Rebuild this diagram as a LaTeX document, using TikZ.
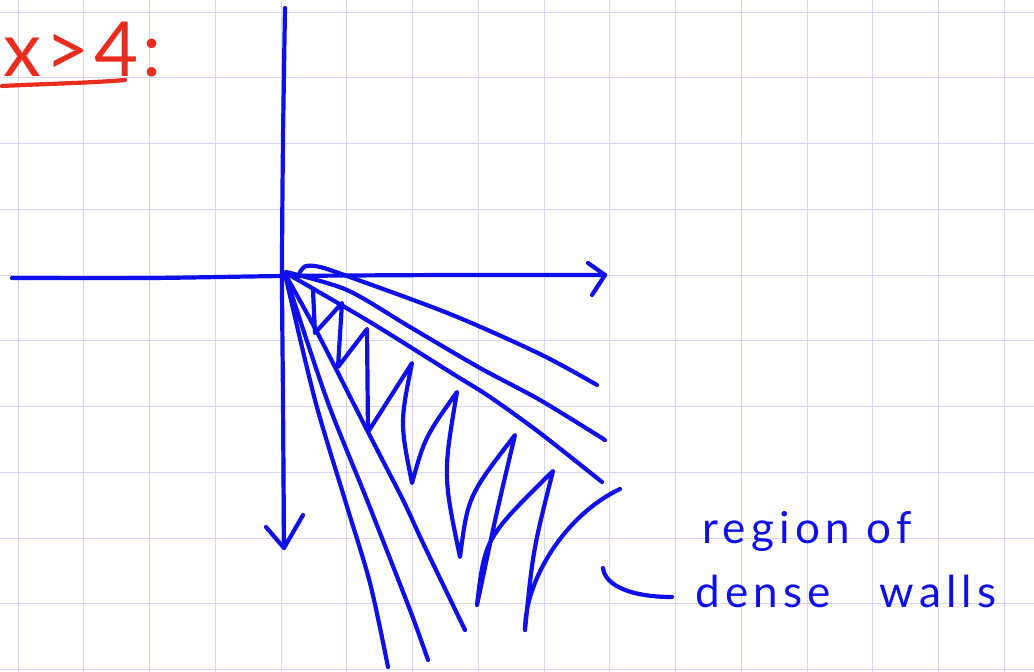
\documentclass[tikz,border=0pt]{standalone}
\usepackage{fontspec}
\newfontfamily\handfont[LetterSpace=12]{Lato}
\newfontfamily\handred[LetterSpace=6]{Lato}
\definecolor{ink}{RGB}{15,15,235}
\definecolor{redink}{RGB}{232,45,30}
\definecolor{gridc}{RGB}{214,214,250}
\begin{document}
\begin{tikzpicture}[x=1pt,y=-1pt,
  pen/.style={draw=ink,line width=4.2pt,line cap=round,line join=round},
  redpen/.style={draw=redink,line width=4.2pt,line cap=round,line join=round},
  gridline/.style={draw=gridc,line width=1pt},
  bluetext/.style={text=ink,inner sep=0pt,font=\fontsize{44}{44}\selectfont\handfont},
  redtext/.style={text=redink,inner sep=0pt,font=\fontsize{76}{76}\selectfont\handred}]
\useasboundingbox (0,0) rectangle (1034,672);
\clip (0,0) rectangle (1034,672);
\fill[white] (0,0) rectangle (1034,672);
% grid
\foreach \i in {0,...,15} {\draw[gridline] ({18+65.75*\i},0) -- ({18+65.75*\i},672);}
\foreach \j in {0,...,10} {\draw[gridline] (0,{12+65.75*\j}) -- (1034,{12+65.75*\j});}
% heading
\node[redtext,anchor=base west] (cond) at (3,76) {x>4:};
\draw[redpen] (2,86) .. controls (40,84) and (90,83) .. (125,80);
% axes
\draw[pen] plot[smooth] coordinates {(285,8) (283,140) (282,274) (283,400) (284,548)};
\draw[pen] (266,527) -- (284,548) -- (303,515);
\draw[pen] plot[smooth] coordinates {(12,278) (150,278) (285,276) (450,275) (605,275)};
\draw[pen] (588,263) -- (605,275) -- (592,295);
% rays
\draw[pen] plot[smooth] coordinates {(300,272) (306,266) (320,267) (347,276) (450,314) (540,354) (597,385)};
\draw[pen] plot[smooth] coordinates {(286,272) (347,290) (410,327) (480,368) (540,400) (605,440)};
\draw[pen] plot[smooth] coordinates {(286,273) (370,322) (450,372) (490,397) (540,433) (602,482)};
\draw[pen] plot[smooth] coordinates {(285,274) (317,332) (368,432) (403,500) (423,543) (465,630)};
\draw[pen] plot[smooth] coordinates {(285,274) (315,400) (345,500) (370,583) (388,667)};
\draw[pen] plot[smooth] coordinates {(285,274) (327,400) (367,500) (410,610) (428,660)};
% zigzag walls
\draw[pen] (313,290) -- (315,333) -- (342,303) -- (338,367) -- (367,329) -- (368,432) -- (412,363)
  .. controls (400,423) .. (412,483)
  .. controls (425,437) .. (457,392)
  .. controls (443,475) .. (460,557)
  .. controls (468,496) .. (515,435)
  .. controls (496,515) .. (477,605)
  .. controls (485,538) .. (553,471)
  .. controls (533,550) .. (525,630)
  .. controls (525,580) and (565,515) .. (620,489);
% label
\node[bluetext,anchor=base west] (lab1) at (702,543) {region of};
\node[bluetext,anchor=base west] (lab2) at (695,607) {dense\hspace{1.1em}walls};
\coordinate (brace) at (603,568);
\coordinate (braceend) at (672,597);
\draw[pen] (brace) .. controls (605,586) and (632,597) .. (braceend);
\end{tikzpicture}
\end{document}
